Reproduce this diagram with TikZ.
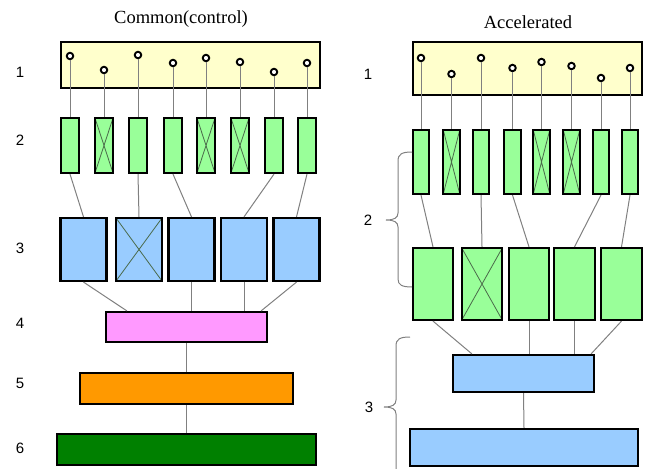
\documentclass[tikz,border=0pt]{standalone}
\usepackage{fontspec}
\setmainfont{Liberation Serif}
\setsansfont{Liberation Sans}
\usepackage{tikz}
\usetikzlibrary{calc}
\definecolor{panelbg}{HTML}{FFFFCC}
\definecolor{cellgreen}{HTML}{99FF99}
\definecolor{cellblue}{HTML}{99CCFF}
\definecolor{cellpink}{HTML}{FF99FF}
\definecolor{cellorange}{HTML}{FF9900}
\definecolor{celldark}{HTML}{008000}
\definecolor{linkgray}{HTML}{808080}
\definecolor{crossgray}{HTML}{4A6A4A}

\begin{document}
\begin{tikzpicture}[x=1pt,y=-1pt,
      cell/.style={draw=black,line width=2.2pt,inner sep=0pt},
      pin/.style={circle,draw=black,fill=white,line width=1.9pt,
                  minimum size=6.5pt,inner sep=0pt},
      xmark/.style={path picture={\draw[crossgray,line width=0.8pt]
          (path picture bounding box.north west) -- (path picture bounding box.south east)
          (path picture bounding box.north east) -- (path picture bounding box.south west);}},
      plain/.style={},
      link/.style={linkgray,line width=1pt},
      brc/.style={linkgray,line width=1pt},
      num/.style={font=\sffamily\fontsize{15}{18}\selectfont},
      ttl/.style={font=\fontsize{18.5}{22}\selectfont}
    ]
      \useasboundingbox (0,0) rectangle (647,468);
      \clip (0,0) rectangle (647,468);

      % common (control)
      \node[ttl] (ltitle) at (181,19) {Common(control)};
      \node[cell,fill=panelbg,minimum width=259pt,minimum height=46pt] (lpanel) at (190.5,65) {};
      \foreach \x/\y/\k [count=\i] in {70/56/plain,104/70/xmark,138/55/plain,173/63/plain,
                                       206/58/xmark,240/62/xmark,274/72/plain,307/63/plain}{
        \node[pin] (lp\i) at (\x,\y) {};
        \node[cell,fill=cellgreen,\k,minimum width=18pt,minimum height=55pt] (ls\i) at (\x,145.5) {};
        \draw[link] (lp\i.south) -- (ls\i.north);
      }
      \foreach \x/\k [count=\i] in {83.5/plain,139/xmark,191.5/plain,244/plain,296.5/plain}
        \node[cell,fill=cellblue,\k,minimum width=46pt,minimum height=63pt] (lc\i) at (\x,249.5) {};
      \node[cell,fill=cellpink,minimum width=161pt,minimum height=30pt] (lpk) at (186.5,327) {};
      \node[cell,fill=cellorange,minimum width=213pt,minimum height=31pt] (lor) at (186.5,388.5) {};
      \node[cell,fill=celldark,minimum width=259pt,minimum height=31pt] (ldg) at (186.5,449.5) {};
      \draw[link] (ls1.south) -- (lc1.north);
      \draw[link] (ls3.south) -- (lc2.north);
      \draw[link] (ls4.south) -- (lc3.north);
      \draw[link] (ls7.south) -- (lc4.north);
      \draw[link] (ls8.south) -- (lc5.north);
      \draw[link] (lc1.south) -- ($(lpk.north west)+(22,0)$);
      \draw[link] (lc3.south) -- (lc3.south |- lpk.north);
      \draw[link] (lc4.south) -- (lc4.south |- lpk.north);
      \draw[link] (lc5.south) -- ($(lpk.north east)+(-7,0)$);
      \draw[link] (lpk.south) -- (lor.north);
      \draw[link] (lor.south) -- (ldg.north);
      \node[num] (l1) at (20,72) {1};
      \node[num] (l2) at (20,140) {2};
      \node[num] (l3) at (20,248) {3};
      \node[num] (l4) at (20,323) {4};
      \node[num] (l5) at (20,383) {5};
      \node[num] (l6) at (20,448) {6};

      % accelerated
      \node[ttl] (rtitle) at (528,22) {Accelerated};
      \node[cell,fill=panelbg,minimum width=229pt,minimum height=53pt] (rpanel) at (527.5,68.5) {};
      \foreach \x/\y/\k [count=\i] in {421/58/plain,451.5/74/xmark,481/58/plain,512.5/68/plain,
                                       541.5/62/xmark,571.5/66/xmark,601/78/plain,630/68/plain}{
        \node[pin] (rp\i) at (\x,\y) {};
        \node[cell,fill=cellgreen,\k,minimum width=16.5pt,minimum height=64pt] (rs\i) at (\x,162) {};
        \draw[link] (rp\i.south) -- (rs\i.north);
      }
      \foreach \x/\k [count=\i] in {433/plain,482/xmark,529/plain,574.5/plain,621.5/plain}
        \node[cell,fill=cellgreen,\k,minimum width=40.5pt,minimum height=72pt] (rc\i) at (\x,284) {};
      \node[cell,fill=cellblue,minimum width=141pt,minimum height=37pt] (rb1) at (523.5,373.5) {};
      \node[cell,fill=cellblue,minimum width=228pt,minimum height=37pt] (rb2) at (524,447.5) {};
      \draw[link] (rs1.south) -- (rc1.north);
      \draw[link] (rs3.south) -- (rc2.north);
      \draw[link] (rs4.south) -- (rc3.north);
      \draw[link] (rs7.south) -- (rc4.north);
      \draw[link] (rs8.south) -- (rc5.north);
      \draw[link] (rc1.south) -- ($(rb1.north west)+(20,0)$);
      \draw[link] (rc3.south) -- (rc3.south |- rb1.north);
      \draw[link] (rc4.south) -- (rc4.south |- rb1.north);
      \draw[link] (rc5.south) -- ($(rb1.north east)+(-4,0)$);
      \draw[link] (rb1.south) -- (rb2.north);
      % braces
      \draw[brc] (412,152) .. controls (402,152) and (398,154) .. (398,161) -- (398,213)
                 .. controls (398,218) and (394,220) .. (386,220)
                 .. controls (394,220) and (398,222) .. (398,227) -- (398,279)
                 .. controls (398,285) and (402,287) .. (412,287);
      \draw[brc] (410,337) .. controls (400,337) and (396,339) .. (396,346) -- (396,400)
                 .. controls (396,405) and (392,407) .. (384,407)
                 .. controls (392,407) and (396,409) .. (396,414) -- (396,480);
      \node[num] (r1) at (368,74) {1};
      \node[num] (r2) at (368,220) {2};
      \node[num] (r3) at (369,407) {3};
    \end{tikzpicture}
\end{document}
